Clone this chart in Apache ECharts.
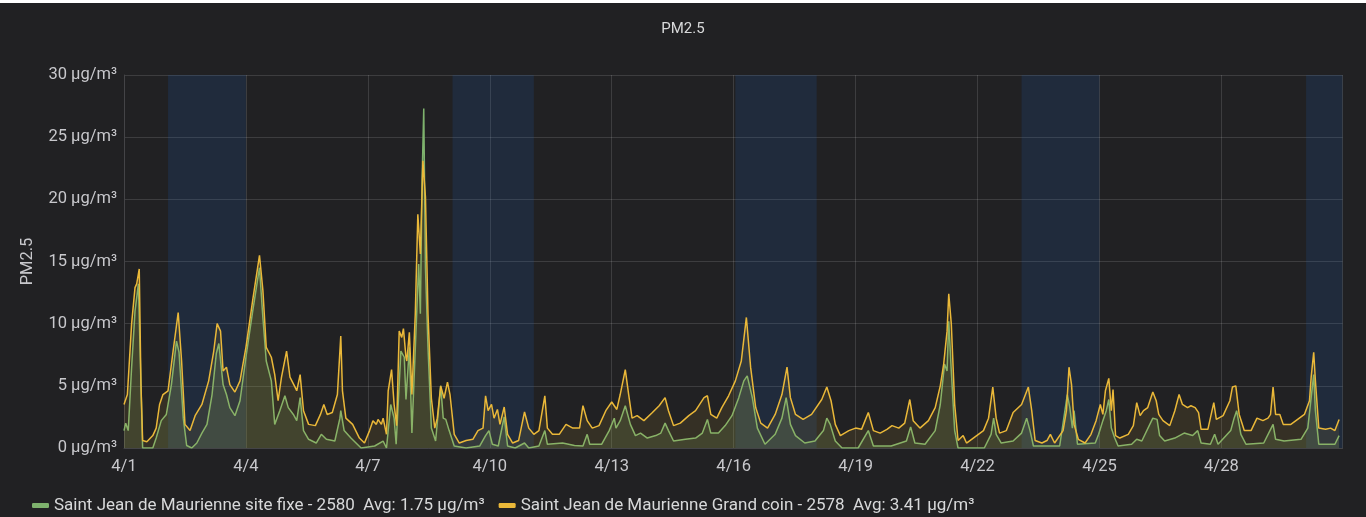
<!DOCTYPE html>
<html><head><meta charset="utf-8">
<script src="https://cdn.jsdelivr.net/npm/echarts@6/dist/echarts.min.js"></script>
<style>
html,body{margin:0;padding:0;background:#212123;}
#top{position:absolute;left:0;top:0;width:1366px;height:3px;background:#ffffff;}
#c{position:absolute;left:0;top:0;width:1366px;height:517px;}
</style></head><body><div id="c"></div><div id="top"></div>
<script>
// Hours since 4/1 00:00 and PM2.5 values (µg/m³)
const siteFixe = [
[0,1.4],[1,2.0],[2.5,1.4],[4.5,6.5],[6.5,11],[8.5,13.2],[10,5.2],[11,0.0],[17,0.0],[19,0.8],[22,2.2],[25,2.7],[28,5.1],[31,8.6],[32.5,7.7],[35,2.4],[37,0.2],[40,0],[43,0.4],[46,1.2],[49,1.9],[52,4.3],[54.5,7.6],[56,8.4],[58.5,5.1],[60.5,4.3],[62.5,3.25],[65.5,2.6],[68.5,3.8],[72,7.3],[76,11],[80,14.5],[82,10.5],[84,7.0],[87,5.4],[89,1.9],[92,3.0],[95,4.2],[97,3.25],[100,2.7],[102,2.2],[104,4.05],[106,1.4],[109,0.7],[113.5,0.4],[116.5,1.1],[119.5,0.7],[124.5,0.56],[127.5,2.4],[128,3.0],[130,1.4],[134,0.8],[140,0],[148,0.16],[153,0.56],[155,0],[157.5,3.5],[159.5,2.4],[160.7,0.3],[163.5,7.8],[165.5,7.3],[166.5,3.9],[168.5,8.1],[170,1.2],[172.5,9.7],[174,14.8],[175,10.8],[176,21.5],[177,27.3],[178,14.5],[179.5,8.1],[181.5,1.6],[184,0.56],[187,5.0],[188.5,2.4],[190,2.3],[192,1.4],[195,0.16],[202,0],[210,0.16],[213.5,1.0],[215.5,1.4],[217.5,0.3],[221,0.16],[224.5,2.5],[226.5,0.16],[231,0],[236.5,0.4],[239,0],[245,0.16],[248.5,1.4],[250,0.3],[259,0.4],[266,0.2],[271,0.16],[273.5,1.1],[275,0.3],[282,0.3],[286.5,1.4],[289.5,2.4],[290.5,1.6],[293,2.2],[296,3.4],[299,1.9],[302,1.0],[305,1.2],[309,0.8],[314,1.0],[317,1.2],[319.5,2.0],[321.5,1.4],[324.5,0.56],[331.5,0.7],[337.5,0.8],[341.5,1.2],[344.5,2.3],[346.5,1.2],[351,1.2],[355,1.8],[359,2.6],[363,4.05],[366,5.4],[368,5.8],[371,4.05],[374,1.6],[378.5,0.3],[384.5,1.1],[388.5,2.4],[391,4.05],[393.5,1.9],[396.5,1.0],[402,0.4],[408,0.56],[413,1.4],[415,2.4],[417,1.9],[420,0.56],[424,0],[433.5,0],[439.5,1.4],[442.5,0.16],[453,0.16],[462,0.56],[464.5,1.7],[467,0.4],[473,0.3],[479,1.4],[482,3.5],[484.5,6.75],[486,6.2],[487,10.2],[488.5,6.2],[490.5,1.4],[492.5,0],[508,0],[512,1.1],[513.5,2.4],[515,1.1],[518,0.4],[525,0.56],[530,1.2],[533,2.4],[535,1.4],[537,0.16],[552.5,0.16],[557,4.3],[558.5,3.25],[560,1.6],[561,3.0],[563,0.3],[573.5,0.4],[575.5,1.1],[578,2.2],[580,3.0],[581.5,3.9],[583,1.6],[585,0.8],[587,0.16],[595,0.3],[598,0.7],[601,0.56],[607.5,2.4],[610,2.3],[611.5,1.0],[614.5,0.56],[620.5,0.8],[626,1.2],[631,1.0],[634,1.4],[636,0.4],[641.5,0.3],[644,1.1],[646,0.3],[653.5,1.4],[655.5,2.4],[657,3.0],[659.5,1.1],[662.5,0.3],[673,0.4],[678.5,1.9],[680,0.7],[685,0.56],[695,0.7],[699,1.6],[701,4.05],[702.5,5.9],[703.5,3.0],[705.5,0.3],[715,0.3],[717.5,1.0]
];
const grandCoin = [
[0,3.5],[2,4.3],[4.5,10],[6.5,12.9],[7.5,13.2],[9,14.4],[10,5.2],[11,0.6],[13.5,0.5],[17,1.0],[19,1.6],[21,3.5],[23,4.3],[26,4.6],[29,7.8],[32,10.9],[34,7.0],[36,1.9],[39,1.4],[42,2.6],[46,3.5],[50,5.4],[53,7.8],[55,10.0],[57,9.4],[58.5,6.2],[60.5,6.5],[62.5,5.1],[65.5,4.5],[68.5,5.4],[72,8.1],[76,11.9],[80,15.5],[82,12.7],[84,8.1],[87,7.3],[89,5.9],[91,3.8],[93,5.7],[96,7.8],[98,5.7],[101,4.9],[102,4.6],[104,5.9],[106,3.0],[109,1.9],[113,1.8],[116,2.7],[118,3.5],[120,2.7],[123,2.85],[126,4.3],[128,9.0],[129,4.6],[131,2.4],[135,1.9],[139,0.8],[142,0.4],[145,1.4],[147,2.2],[149,1.9],[150,2.3],[152,1.9],[153,2.4],[155,1.1],[156,4.6],[158,6.3],[159.5,3.5],[161,1.8],[162.5,9.4],[164,8.9],[165,9.6],[166.5,7.3],[167,7.0],[168.5,9.3],[170,4.3],[172,10.8],[173.5,18.8],[175,15.6],[176.5,23.1],[178,20.2],[179.5,10.8],[181.5,4.0],[183.5,1.6],[185,2.4],[187,5.0],[189,4.0],[191,5.3],[192.5,4.3],[195,1.1],[198,0.4],[202,0.6],[206,0.7],[209,1.4],[212,1.6],[213.5,4.2],[215,3.0],[217,3.5],[218.5,2.4],[220.5,3.1],[222,1.9],[224.5,3.3],[226.5,1.1],[229.5,0.4],[233,0.6],[236.5,2.9],[239,1.6],[242,1.1],[245,1.4],[248.5,4.2],[250,1.6],[253,1.1],[257,1.1],[261,1.9],[265,1.6],[269,1.6],[271,3.4],[273.5,2.2],[276.5,1.6],[280.5,1.8],[284.5,3.0],[288,3.7],[291,3.1],[293,4.3],[296,6.3],[298,4.3],[300,2.4],[303,2.6],[307,2.2],[312,2.85],[316,3.4],[319.5,4.05],[321.5,3.0],[324.5,1.8],[328.5,2.0],[333.5,2.6],[337.5,3.0],[342.5,4.05],[344.5,4.2],[346.5,2.7],[350,2.4],[353,3.25],[357,4.2],[361,5.4],[364.5,7.0],[367.5,10.5],[370,6.5],[373,3.25],[376,2.0],[380,1.6],[384.5,2.7],[388.5,4.3],[391.5,6.5],[393.5,4.05],[396.5,2.7],[401,2.3],[406,2.7],[412,3.9],[415,4.9],[417.5,3.8],[420,1.9],[423,1.0],[428,1.4],[432,1.6],[435.5,1.5],[439.5,2.85],[442.5,1.4],[446.5,1.2],[450.5,1.5],[453.5,1.8],[457.5,1.6],[461,2.0],[464,3.9],[466,2.2],[470,1.6],[475,2.2],[479,3.25],[482,5.0],[484,6.75],[486,9.4],[487,12.4],[488.5,10.0],[490.5,3.5],[492.5,0.6],[495.5,1.0],[497.5,0.4],[501.5,0.8],[507.5,1.4],[510.5,2.4],[513,4.9],[515,2.4],[517,1.2],[521,1.4],[525,2.85],[530,3.5],[534,4.9],[536,3.0],[538,0.6],[542,0.4],[545,0.6],[547,1.1],[549.5,0.4],[554.5,1.4],[556.5,3.0],[558,6.5],[559.5,5.1],[561,1.9],[563.5,0.7],[567.5,0.4],[571,1.1],[574,2.2],[576.5,3.5],[578,2.7],[579.5,4.6],[581.5,5.6],[583,3.0],[584,4.7],[585.5,1.0],[588,0.8],[593,1.1],[596,1.8],[598,3.65],[600,2.6],[602,3.0],[604.5,3.25],[607.5,4.5],[609.5,3.8],[611,2.7],[613.5,2.2],[617.5,1.8],[620.5,3.0],[623,4.3],[625,3.5],[628,3.25],[630,3.4],[632.5,3.25],[634.5,2.85],[636,1.5],[640,1.5],[643.5,3.65],[645,2.3],[649,2.6],[653,3.8],[654.5,4.9],[656.5,5.0],[658.5,2.7],[661.5,1.4],[665.5,1.4],[669,2.4],[672.5,2.2],[675.5,2.4],[677,2.7],[678.5,4.9],[680,2.7],[682.5,2.7],[684.5,1.9],[689,1.9],[693,2.3],[697,2.7],[700,3.8],[701,5.7],[702.5,7.7],[703.5,5.4],[705.5,1.6],[709.5,1.5],[712.5,1.6],[715,1.4],[717.5,2.3]
];
// weekend shading, hours since 4/1 00:00
const weekendBands = [[26,72],[194,242],[361,409],[530,576],[698,719.5]];
const xTickLabels = ['4/1','4/4','4/7','4/10','4/13','4/16','4/19','4/22','4/25','4/28'];
const yTickValues = [0,5,10,15,20,25,30];
const seriesNames = ['Saint Jean de Maurienne site fixe - 2580','Saint Jean de Maurienne Grand coin - 2578'];
const seriesAvg = ['1.75','3.41'];
const unit = 'µg/m³';

const FONT = 'Roboto';
const chart = echarts.init(document.getElementById('c'), null, {renderer:'canvas'});
const legendText = {};
seriesNames.forEach((n,i)=>{ legendText[n] = n + '  Avg: ' + seriesAvg[i] + ' ' + unit; });

chart.setOption({
  backgroundColor: '#212123',
  animation: false,
  textStyle: {fontFamily: FONT},
  title: {text: 'PM2.5', left: 'center', top: 17, textStyle: {color:'#d8d9da', fontSize: 15, fontWeight:'normal', fontFamily: FONT}},
  grid: {left: 124, right: 23.5, top: 75, bottom: 69},
  legend: {
    data: seriesNames, left: 27, bottom: -2, icon: 'roundRect', itemWidth: 17, itemHeight: 5, itemGap: 14,
    textStyle: {color:'#d8d9da', fontSize: 17, fontFamily: FONT},
    formatter: n => legendText[n]
  },
  xAxis: {
    type: 'value', min: 0, max: 719.5, interval: 72,
    axisLine: {show: true, lineStyle: {color: '#444447'}},
    axisTick: {show: false},
    axisLabel: {color:'#c8c8cc', fontSize: 16.5, margin: 10, fontFamily: FONT,
      formatter: v => (Math.abs(v % 72) < 1e-6 && xTickLabels[v/72]) ? xTickLabels[v/72] : ''},
    splitLine: {show: true, lineStyle: {color: 'rgba(255,255,255,0.13)', width: 1}}
  },
  yAxis: {
    type: 'value', min: yTickValues[0], max: yTickValues[yTickValues.length-1], interval: 5,
    name: 'PM2.5', nameLocation: 'middle', nameGap: 88, nameRotate: 90,
    nameTextStyle: {color:'#c8c8cc', fontSize: 16.5, fontFamily: FONT},
    axisLine: {show: true, lineStyle: {color: '#444447'}},
    axisTick: {show: false},
    axisLabel: {color:'#c8c8cc', fontSize: 16.5, margin: 7, fontFamily: FONT, formatter: v => v + ' ' + unit},
    splitLine: {show: true, lineStyle: {color: 'rgba(255,255,255,0.13)', width: 1}}
  },
  series: [
    {
      name: seriesNames[0], type: 'line', data: siteFixe, symbol: 'none', z: 2,
      lineStyle: {color: '#7EB26D', width: 1.5}, itemStyle: {color: '#7EB26D'},
      areaStyle: {color: '#7EB26D', opacity: 0.15},
      markArea: {silent: true, itemStyle: {color: 'rgba(30,100,190,0.16)'},
        data: weekendBands.map(b => [{xAxis: b[0]}, {xAxis: b[1]}])}
    },
    {
      name: seriesNames[1], type: 'line', data: grandCoin, symbol: 'none', z: 3,
      lineStyle: {color: '#EAB839', width: 1.5}, itemStyle: {color: '#EAB839'},
      areaStyle: {color: '#EAB839', opacity: 0.1}
    }
  ]
});
</script></body></html>
